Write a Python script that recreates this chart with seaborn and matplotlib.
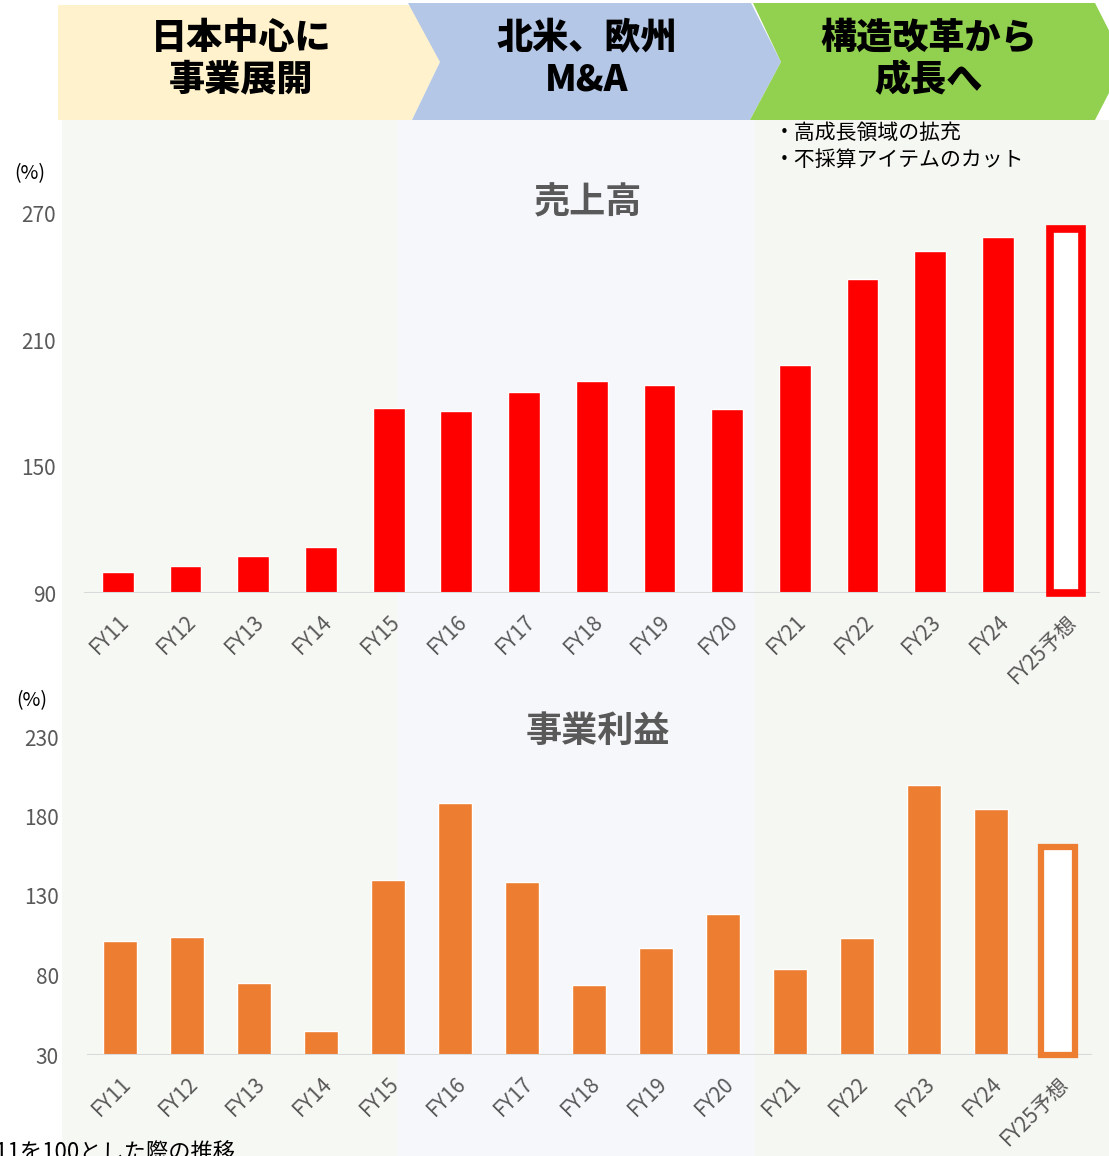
import matplotlib
matplotlib.use('Agg')
import matplotlib.pyplot as plt
from matplotlib.patches import Rectangle, Polygon
import seaborn as sns

# data (FY11 = 100)
fiscal_years = ['FY11', 'FY12', 'FY13', 'FY14', 'FY15', 'FY16', 'FY17', 'FY18',
                'FY19', 'FY20', 'FY21', 'FY22', 'FY23', 'FY24', 'FY25予想']
sales_index = [100, 103, 107.5, 112, 178, 176.5, 185.5, 190.5, 189, 177.5,
               198.5, 239, 252.5, 259, 263]
profit_index = [101.5, 104, 75, 45, 140, 188.5, 139, 74, 97, 118.5,
                84, 103.5, 200, 185, 161]
sales_ticks = [90, 150, 210, 270]
profit_ticks = [30, 80, 130, 180, 230]

W, H = 1109, 1156
RED = '#ff0000'
ORANGE = '#ed7d31'
GRAY = '#595959'

sns.set_theme(style='white')
plt.rcParams['font.family'] = ['Noto Sans CJK JP', 'DejaVu Sans']

fig = plt.figure(figsize=(W / 100, H / 100), dpi=100)


def fx(x):
    return x / W


def fy(y):
    return 1 - y / H


def px_poly(points, color):
    pts = [(fx(x), fy(y)) for x, y in points]
    fig.add_artist(Polygon(pts, closed=True, facecolor=color, edgecolor='none',
                           transform=fig.transFigure, zorder=-1))


# shaded period backgrounds
for x0, x1, c in [(62, 397, '#f6f8f3'), (397, 755, '#f5f7fb'), (755, 1109, '#f5f7f2')]:
    fig.add_artist(Rectangle((fx(x0), 0), fx(x1) - fx(x0), fy(120), facecolor=c,
                             edgecolor='none', transform=fig.transFigure, zorder=-2))

# header chevrons
px_poly([(58, 5), (412, 5), (440, 62), (412, 120), (58, 120)], '#fff2cc')
px_poly([(408, 3), (751, 3), (781, 62), (750, 120), (412, 120), (440, 62)], '#b4c7e7')
px_poly([(753, 3), (1095, 3), (1125, 62), (1095, 120), (750, 120), (781, 62)], '#92d050')

for x, txt in [(241, '日本中心に\n事業展開'), (587, '北米、欧州\nM&A'), (929, '構造改革から\n成長へ')]:
    fig.text(fx(x), fy(59), txt, ha='center', va='center', fontsize=26,
             fontweight='black', color='black', linespacing=1.2)

fig.text(fx(774), fy(133), '・高成長領域の拡充', ha='left', va='center', fontsize=15, color='black')
fig.text(fx(774), fy(160), '・不採算アイテムのカット', ha='left', va='center', fontsize=15, color='black')


def draw_panel(rect, values, color, ticks, bar_width, edge_lw):
    ax = fig.add_axes(rect)
    ax.patch.set_alpha(0)
    sns.barplot(x=fiscal_years, y=values, color=color, width=bar_width,
                saturation=1, ax=ax, zorder=2)
    ax.set_ylim(ticks[0], ticks[-1])
    ax.set_xlim(-0.5, len(fiscal_years) - 0.5)
    ax.set_yticks(ticks)
    for s in ax.spines.values():
        s.set_visible(False)
    ax.axhline(ticks[0], color='#d9d9d9', lw=1.5, zorder=3)
    # forecast bar: hollow with thick outline
    last = ax.patches[-1]
    last.set_y(ticks[0])
    last.set_height(values[-1] - ticks[0])
    last.set_facecolor('white')
    last.set_edgecolor(color)
    last.set_linewidth(edge_lw)
    last.set_clip_on(False)
    last.set_zorder(4)
    ax.tick_params(axis='y', length=0, pad=20, labelsize=15, labelcolor=GRAY)
    ax.tick_params(axis='x', length=0, pad=13, labelsize=15, labelcolor=GRAY, rotation=45)
    for lab in ax.get_xticklabels():
        lab.set_ha('right')
        lab.set_rotation_mode('anchor')
    ax.set_xlabel('')
    ax.set_ylabel('')
    return ax


draw_panel([fx(84), fy(593), 1015.5 / W, (593 - 214) / H], sales_index, RED,
           sales_ticks, 0.47, 5.5)
draw_panel([fx(86.5), fy(1055), 1005 / W, (1055 - 737) / H], profit_index, ORANGE,
           profit_ticks, 0.52, 4.5)

fig.text(fx(588), fy(203), '売上高', ha='center', va='center', fontsize=26,
         fontweight='bold', color=GRAY)
fig.text(fx(598), fy(731), '事業利益', ha='center', va='center', fontsize=26,
         fontweight='bold', color=GRAY)
fig.text(fx(30), fy(174), '(%)', ha='center', va='center', fontsize=14, color='black')
fig.text(fx(32), fy(701), '(%)', ha='center', va='center', fontsize=14, color='black')

fig.text(fx(-28), fy(1141), 'FY11を100とした際の推移', ha='left', va='top',
         fontsize=16, color='black')

fig.savefig('out.png', dpi=100)
